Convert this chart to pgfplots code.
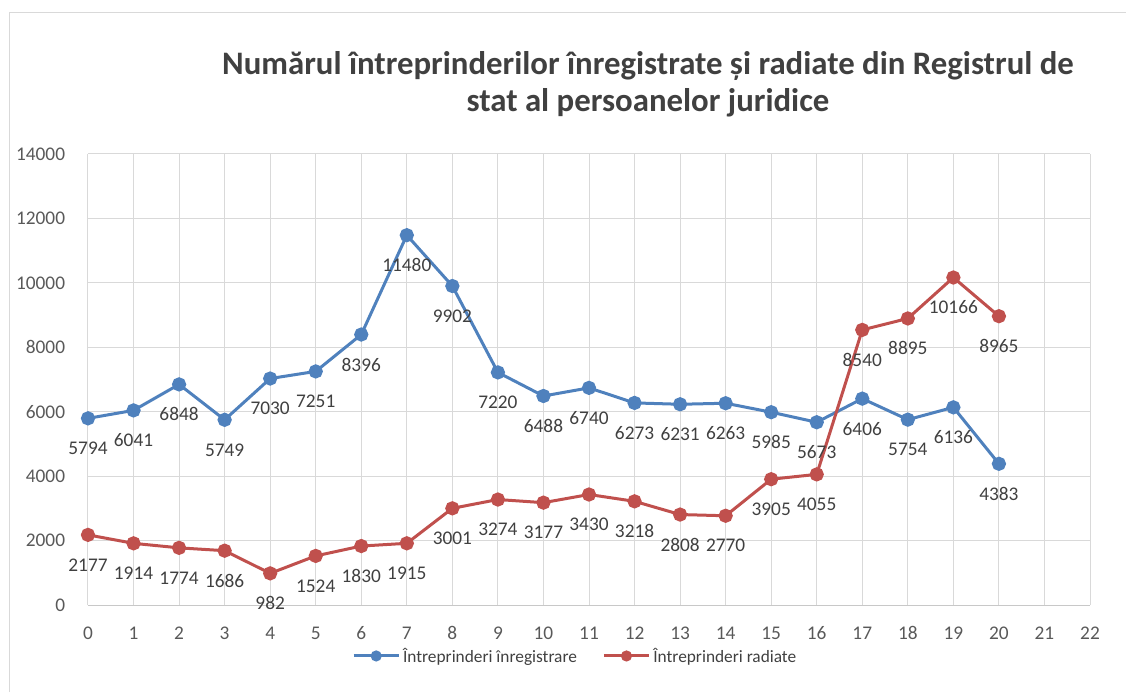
\documentclass[border=0pt]{standalone}
\usepackage{fontspec}
\setmainfont{Carlito}
\usepackage{pgfplots}
\pgfplotsset{compat=1.18}
\definecolor{cblue}{RGB}{79,129,189}
\definecolor{cred}{RGB}{192,80,77}
\definecolor{ctext}{RGB}{64,64,64}
\definecolor{ctick}{RGB}{89,89,89}
\definecolor{cgrid}{RGB}{217,217,217}
\definecolor{caxis}{RGB}{200,200,200}
\begin{document}
\begin{tikzpicture}
\begin{scope}[x=0.75pt,y=-0.75pt,shift={(-88,-605)}]
\useasboundingbox (0,0) rectangle (1126,692);
\draw[cgrid, line width=0.75pt] (10,692) -- (10,13) -- (1126,13);
\node[font=\bfseries\fontsize{24.6}{29}\selectfont, text=ctext, anchor=base] at (648,75) {Numărul întreprinderilor înregistrate și radiate din Registrul de};
\node[font=\bfseries\fontsize{24.6}{29}\selectfont, text=ctext, anchor=base] at (648,112) {stat al persoanelor juridice};
\end{scope}
\begin{axis}[
  at={(0,0)}, anchor=south west,
  scale only axis, width=751.5pt, height=338.25pt,
  xmin=0, xmax=22, ymin=0, ymax=14000,
  xtick={0,...,22}, ytick={0,2000,...,14000},
  scaled y ticks=false, scaled x ticks=false,
  grid=major, major grid style={cgrid, line width=0.75pt},
  axis x line*=bottom, axis y line*=left,
  x axis line style={caxis, line width=0.75pt},
  y axis line style={draw=none},
  major tick length=0pt,
  tick label style={font=\fontsize{14.5}{17}\selectfont, text=ctick, inner sep=0pt},
  xticklabel style={anchor=center, yshift=-21pt},
  yticklabel style={anchor=east, xshift=-17pt},
  /pgf/number format/assume math mode=true,
  /pgf/number format/1000 sep={},
  clip=false,
  legend style={at={(0.4865,-0.113)}, anchor=center, draw=none, fill=none,
    legend columns=-1, font=\fontsize{13}{15}\selectfont, text=ctext,
    /tikz/every even column/.append style={column sep=17pt}},
  legend image code/.code={\draw[mark repeat=2,mark phase=2,#1,mark size=3pt] plot coordinates {(0pt,0pt) (17pt,0pt) (34pt,0pt)};},
  nodes near coords,
  every node near coord/.append style={anchor=center, yshift=-22.5pt, font=\fontsize{14.5}{17}\selectfont, text=ctext},
]
\addplot[cblue, line width=2.25pt, mark=*, mark size=4.2pt, mark options={solid, fill=cblue, draw=cblue}]
coordinates {
(0,5794) (1,6041) (2,6848) (3,5749) (4,7030) (5,7251) (6,8396) (7,11480) (8,9902) (9,7220) (10,6488)
(11,6740) (12,6273) (13,6231) (14,6263) (15,5985) (16,5673) (17,6406) (18,5754) (19,6136) (20,4383)
};
\addlegendentry{Întreprinderi înregistrare}
\addplot[cred, line width=2.25pt, mark=*, mark size=4.2pt, mark options={solid, fill=cred, draw=cred}]
coordinates {
(0,2177) (1,1914) (2,1774) (3,1686) (4,982) (5,1524) (6,1830) (7,1915) (8,3001) (9,3274) (10,3177)
(11,3430) (12,3218) (13,2808) (14,2770) (15,3905) (16,4055) (17,8540) (18,8895) (19,10166) (20,8965)
};
\addlegendentry{Întreprinderi radiate}
\end{axis}
\end{tikzpicture}
\end{document}
